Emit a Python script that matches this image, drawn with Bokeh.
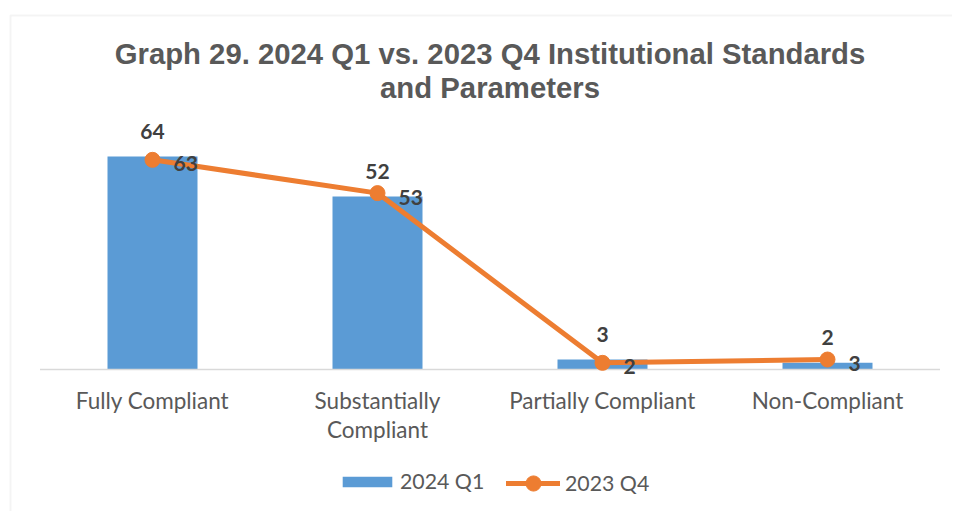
from bokeh.plotting import figure
from bokeh.models import Range1d, Legend, LegendItem, BoxAnnotation, ColumnDataSource
from bokeh.core.properties import value
from bokeh.embed import file_html
from bokeh.resources import INLINE

# ---- data ----
categories = ["Fully Compliant", "Substantially Compliant", "Partially Compliant", "Non-Compliant"]
tick_labels = ["Fully Compliant", "Substantially\nCompliant", "Partially Compliant", "Non-Compliant"]
q1_2024 = [64, 52, 3, 2]
q4_2023 = [63, 53, 2, 3]
series_names = ["2024 Q1", "2023 Q4"]
title_lines = ["Graph 29. 2024 Q1 vs. 2023 Q4 Institutional Standards", "and Parameters"]

BLUE = "#5B9BD5"
ORANGE = "#ED7D31"
GRAY_TXT = "#595959"
LABEL_TXT = "#404040"
BORDER = "#D9D9D9"

W, H = 952, 511
X0, X1 = -152 / 225, (W - 152) / 225      # category slot = 225 px
Y1 = 369 / 3.328
Y0 = -(H - 369) / 3.328

xs = list(range(len(categories)))
src = ColumnDataSource(dict(
    x=xs,
    q1=q1_2024,
    q4=q4_2023,
    q1_txt=[str(v) for v in q1_2024],
    q4_txt=[str(v) for v in q4_2023],
    line1=[t.split("\n")[0] for t in tick_labels],
    line2=[t.split("\n")[1] if "\n" in t else "" for t in tick_labels],
    zero=[0] * len(categories),
))

p = figure(width=W, height=H,
           x_range=Range1d(X0, X1), y_range=Range1d(Y0, Y1),
           x_axis_location=None, y_axis_location=None,
           output_backend="svg", toolbar_location=None,
           min_border=0)
p.grid.visible = False
p.outline_line_color = None
p.background_fill_color = "white"
p.border_fill_color = "white"

# chart-area border (top and left edges visible)
p.add_layout(BoxAnnotation(left=10, right=5000, top=15, bottom=5000,
                           left_units="canvas", right_units="canvas",
                           top_units="canvas", bottom_units="canvas",
                           fill_alpha=0, line_color=BORDER, line_width=2))

bars = p.vbar(x="x", top="q1", width=0.4, source=src,
              fill_color=BLUE, line_color=None)

# category axis line
p.segment(x0=[xs[0] - 0.5], x1=[xs[-1] + 0.5], y0=[0], y1=[0],
          line_color=BORDER, line_width=1.5)

ln = p.line(x="x", y="q4", source=src, line_color=ORANGE, line_width=5,
            line_join="round", line_cap="round")
sc = p.scatter(x="x", y="q4", source=src, size=15, marker="circle",
               fill_color=ORANGE, line_color=ORANGE)

# data labels
p.text(x="x", y="q1", text="q1_txt", source=src, text_align="center",
       text_baseline="alphabetic", y_offset=-25,
       text_font=value("Lato"), text_font_style="bold", text_font_size="21px",
       text_color=LABEL_TXT)
p.text(x="x", y="q4", text="q4_txt", source=src, text_align="left",
       text_baseline="alphabetic", x_offset=21, y_offset=4,
       text_font=value("Lato"), text_font_style="bold", text_font_size="21px",
       text_color=LABEL_TXT)

# category labels
for col, off in (("line1", 31), ("line2", 60)):
    p.text(x="x", y="zero", text=col, source=src, text_align="center",
           text_baseline="alphabetic", y_offset=off,
           text_font=value("Lato"), text_font_size="22.5px", text_color=GRAY_TXT)

# title
xc = (xs[0] + xs[-1]) / 2
for i, t in enumerate(title_lines):
    p.text(x=[xc], y=[Y1], text=[t], y_offset=53 + 34 * i,
           text_align="center", text_baseline="alphabetic",
           text_font=value("Liberation Sans"), text_font_style="bold",
           text_font_size="29.3px", text_color=GRAY_TXT)

common = dict(orientation="horizontal", padding=0, margin=0, spacing=0,
              label_text_font="Lato", label_text_font_size="21.3px",
              label_text_color=GRAY_TXT, border_line_color=None,
              background_fill_alpha=0)
leg1 = Legend(items=[LegendItem(label=series_names[0], renderers=[bars])],
              location=(336, 17), glyph_width=62, glyph_height=13,
              label_standoff=2, **common)
leg2 = Legend(items=[LegendItem(label=series_names[1], renderers=[ln, sc])],
              location=(506, 9), glyph_width=54, glyph_height=38,
              label_standoff=5, **common)
p.add_layout(leg1)
p.add_layout(leg2)

open("out.html", "w").write(file_html(p, INLINE))
